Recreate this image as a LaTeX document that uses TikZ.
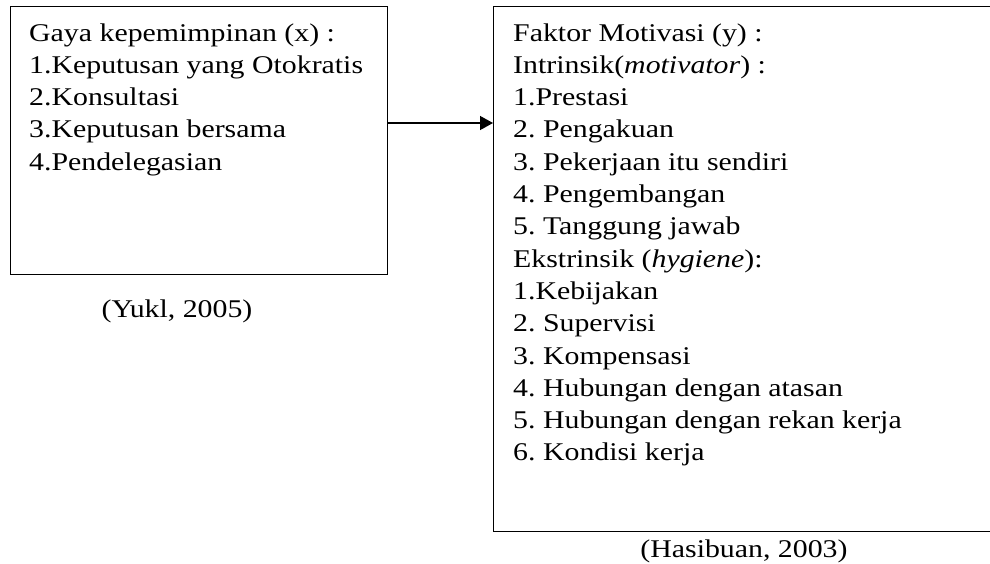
\documentclass[tikz,border=0pt]{standalone}
\usepackage{fontspec}
\setmainfont[FakeStretch=1.17]{Liberation Serif}
\usetikzlibrary{arrows.meta}
\begin{document}
\frenchspacing
\begin{tikzpicture}[x=1pt,y=-1pt,
  frame/.style={draw=black,line width=1.4pt,rectangle,inner sep=0pt,anchor=north west},
  txt/.style={anchor=base west,inner sep=0pt,font=\fontsize{25.5}{32.3}\selectfont\frenchspacing},
  captxt/.style={anchor=base,inner sep=0pt,font=\fontsize{25.5}{32.3}\selectfont\frenchspacing},
  arr/.style={line width=1.4pt,-{Triangle[length=13pt,width=14pt]}}]
\useasboundingbox (0,0) rectangle (990,563);
% boxes
\node[frame,minimum width=377pt,minimum height=268pt] (L) at (10,6) {};
\node[frame,minimum width=503pt,minimum height=525pt] (R) at (493,6) {};
% left text
\foreach \t [count=\i from 0] in {Gaya kepemimpinan (x) :,1.Keputusan yang Otokratis,2.Konsultasi,3.Keputusan bersama,4.Pendelegasian}
  \node[txt] (l\i) at (29,41+32.3*\i) {\t};
% right text
\foreach \t [count=\i from 0] in {Faktor Motivasi (y) :,Intrinsik(\textit{motivator}) :,1.Prestasi,2. Pengakuan,3. Pekerjaan itu sendiri,4. Pengembangan,5. Tanggung jawab,Ekstrinsik (\textit{hygiene}):,1.Kebijakan,2. Supervisi,3. Kompensasi,4. Hubungan dengan atasan,5. Hubungan dengan rekan kerja,6. Kondisi kerja}
  \node[txt] (r\i) at (513,41+32.3*\i) {\t};
% captions
\node[captxt] (c1) at (177,317) {(Yukl, 2005)};
\node[captxt] (c2) at (744,557) {(Hasibuan, 2003)};
% arrow
\coordinate (ay) at (0,123);
\draw[arr] (L.east |- ay) -- (R.west |- ay);
\end{tikzpicture}
\end{document}
